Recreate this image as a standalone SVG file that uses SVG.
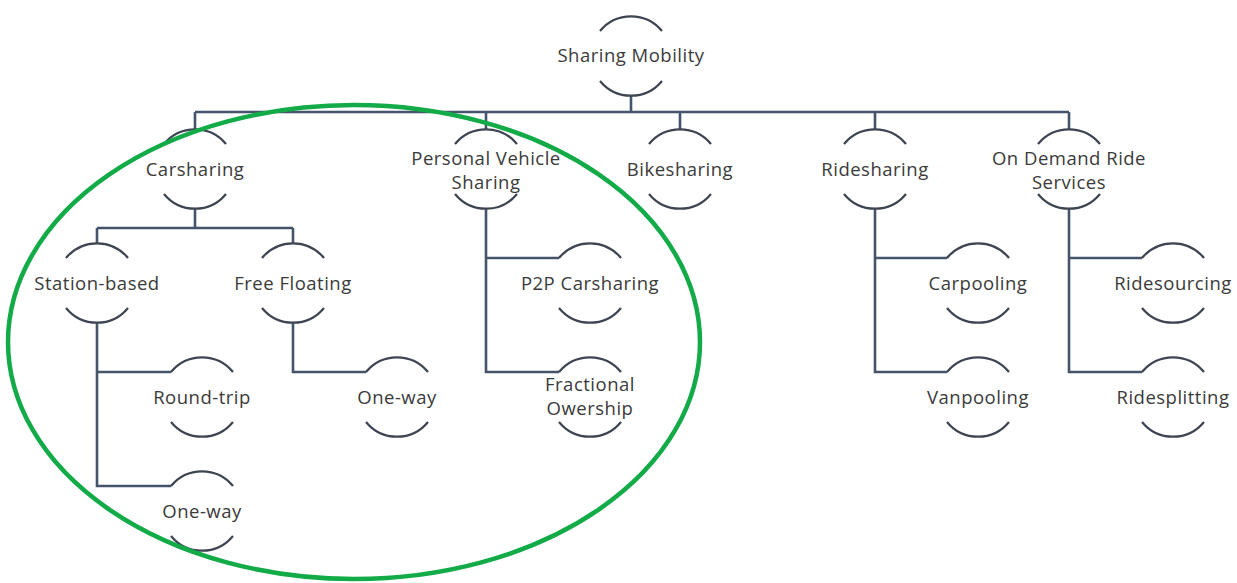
<svg xmlns="http://www.w3.org/2000/svg" xmlns:xlink="http://www.w3.org/1999/xlink" width="1237" height="583" viewBox="0 0 1237 583">
<style>
.lbl{font-family:"Open Sans","Liberation Sans",sans-serif;font-size:18.5px;letter-spacing:0.5px;fill:#3a3a3a;text-anchor:middle;dominant-baseline:central}
.arc{fill:none;stroke:#3d4452;stroke-width:2.2}
.con{fill:none;stroke:#44546a;stroke-width:2.6}
</style>
<defs>
<g id="ring">
<path class="arc" d="M-31,-25 A40,40 0 0 1 31,-25"/>
<path class="arc" d="M-31,25 A40,40 0 0 0 31,25"/>
</g>
</defs>
<rect width="1237" height="583" fill="#ffffff"/>
<g id="connectors">
<path class="con" d="M631,96 V112 M195,112 H1069 M195,112 V129 M486,112 V129 M680,112 V129 M875,112 V129 M1069,112 V129"/>
<path class="con" d="M195,209 V228 M97,228 H293 M97,228 V243 M293,228 V243"/>
<path class="con" d="M97,323 V486 H171 M97,372 H171"/>
<path class="con" d="M293,323 V372 H366"/>
<path class="con" d="M486,209 V372 H559 M486,258 H559"/>
<path class="con" d="M875,209 V372 H947 M875,258 H947"/>
<path class="con" d="M1069,209 V372 H1142 M1069,258 H1142"/>
</g>
<g id="n-sharing-mobility"><use xlink:href="#ring" x="631" y="56"/><text class="lbl" x="631" y="54">Sharing Mobility</text></g>
<g id="n-carsharing"><use xlink:href="#ring" x="195" y="169"/><text class="lbl" x="195" y="168">Carsharing</text></g>
<g id="n-personal-vehicle"><use xlink:href="#ring" x="486" y="169"/><text class="lbl" x="486" y="157">Personal Vehicle</text><text class="lbl" x="486" y="181">Sharing</text></g>
<g id="n-bikesharing"><use xlink:href="#ring" x="680" y="169"/><text class="lbl" x="680" y="168">Bikesharing</text></g>
<g id="n-ridesharing"><use xlink:href="#ring" x="875" y="169"/><text class="lbl" x="875" y="168">Ridesharing</text></g>
<g id="n-on-demand"><use xlink:href="#ring" x="1069" y="169"/><text class="lbl" x="1069" y="157">On Demand Ride</text><text class="lbl" x="1069" y="181">Services</text></g>
<g id="n-station-based"><use xlink:href="#ring" x="97" y="283"/><text class="lbl" x="97" y="282">Station-based</text></g>
<g id="n-free-floating"><use xlink:href="#ring" x="293" y="283"/><text class="lbl" x="293" y="282">Free Floating</text></g>
<g id="n-round-trip"><use xlink:href="#ring" x="202" y="397"/><text class="lbl" x="202" y="396">Round-trip</text></g>
<g id="n-one-way-station"><use xlink:href="#ring" x="202" y="511"/><text class="lbl" x="202" y="510">One-way</text></g>
<g id="n-one-way-free"><use xlink:href="#ring" x="397" y="397"/><text class="lbl" x="397" y="396">One-way</text></g>
<g id="n-p2p"><use xlink:href="#ring" x="590" y="283"/><text class="lbl" x="590" y="282">P2P Carsharing</text></g>
<g id="n-fractional"><use xlink:href="#ring" x="590" y="397"/><text class="lbl" x="590" y="383">Fractional</text><text class="lbl" x="590" y="407">Owership</text></g>
<g id="n-carpooling"><use xlink:href="#ring" x="978" y="283"/><text class="lbl" x="978" y="282">Carpooling</text></g>
<g id="n-vanpooling"><use xlink:href="#ring" x="978" y="397"/><text class="lbl" x="978" y="396">Vanpooling</text></g>
<g id="n-ridesourcing"><use xlink:href="#ring" x="1173" y="283"/><text class="lbl" x="1173" y="282">Ridesourcing</text></g>
<g id="n-ridesplitting"><use xlink:href="#ring" x="1173" y="397"/><text class="lbl" x="1173" y="396">Ridesplitting</text></g>
<ellipse id="highlight" cx="354" cy="342" rx="346" ry="237" fill="none" stroke="#12ab48" stroke-width="4.5"/>
</svg>
